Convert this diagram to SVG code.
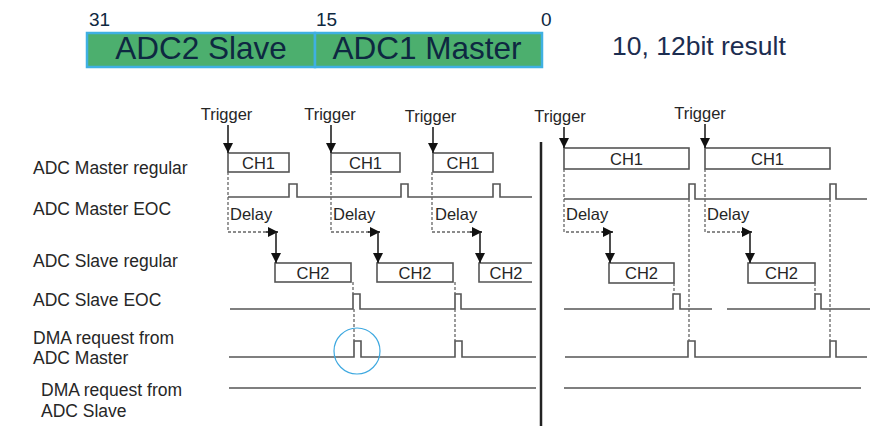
<svg xmlns="http://www.w3.org/2000/svg" width="881" height="442" viewBox="0 0 881 442">
<style>
text{font-family:"Liberation Sans",Arial,sans-serif}
.reg{fill:#4caf6e;stroke:#3fb0e2;stroke-width:2.5}
.big{font-size:31.5px;fill:#0e2841}
.bit{font-size:19px;fill:#0e2841}
.lab{font-size:17.5px;fill:#262626}
.trg{font-size:16.5px;fill:#262626}
.ch{font-size:16.5px;fill:#262626;text-anchor:middle}
.sig{fill:none;stroke:#555;stroke-width:1.6}
.box{fill:#fff;stroke:#555;stroke-width:1.6}
.dash{fill:none;stroke:#666;stroke-width:1.3;stroke-dasharray:3 2}
.arr{fill:none;stroke:#222;stroke-width:1.6}
</style>
<defs>
<marker id="ah" viewBox="0 0 10 10" refX="10" refY="5" markerWidth="10" markerHeight="10" markerUnits="userSpaceOnUse" orient="auto">
<path d="M0,0 L10,5 L0,10 z" fill="#111"/>
</marker>
</defs>

<g id="register">
<rect class="reg" x="87" y="33" width="228" height="34"/>
<rect class="reg" x="315" y="33" width="227" height="34"/>
<text class="big" x="201" y="59" text-anchor="middle">ADC2 Slave</text>
<text class="big" x="427" y="59" text-anchor="middle">ADC1 Master</text>
<text class="bit" x="89" y="26">31</text>
<text class="bit" x="316" y="26">15</text>
<text class="bit" x="541" y="26">0</text>
<text x="612" y="55" style="font-size:26.5px;fill:#1c2d50">10, 12bit result</text>
</g>

<g id="labels">
<text class="lab" x="33" y="174">ADC Master regular</text>
<text class="lab" x="33" y="215">ADC Master EOC</text>
<text class="lab" x="33" y="267">ADC Slave regular</text>
<text class="lab" x="33" y="306">ADC Slave EOC</text>
<text class="lab" x="33" y="344">DMA request from</text>
<text class="lab" x="33" y="364">ADC Master</text>
<text class="lab" x="41" y="396">DMA request from</text>
<text class="lab" x="41" y="417">ADC Slave</text>
</g>

<g id="triggers">
<text class="trg" x="226.5" y="120" text-anchor="middle">Trigger</text>
<text class="trg" x="330" y="120" text-anchor="middle">Trigger</text>
<text class="trg" x="430.5" y="122" text-anchor="middle">Trigger</text>
<text class="trg" x="560" y="122" text-anchor="middle">Trigger</text>
<text class="trg" x="700" y="119" text-anchor="middle">Trigger</text>
</g>

<g id="master-regular">
<rect class="box" x="228" y="153" width="61" height="19"/>
<rect class="box" x="331" y="153" width="69" height="19"/>
<rect class="box" x="433" y="153" width="60" height="19"/>
<rect class="box" x="564" y="148" width="125" height="21"/>
<rect class="box" x="705" y="148" width="125" height="21"/>
<text class="ch" x="258.5" y="169">CH1</text>
<text class="ch" x="365.5" y="169">CH1</text>
<text class="ch" x="463" y="169">CH1</text>
<text class="ch" x="626.5" y="165">CH1</text>
<text class="ch" x="767.5" y="165">CH1</text>
</g>

<g id="slave-regular">
<rect class="box" x="275" y="263" width="76" height="19"/>
<rect class="box" x="377" y="263" width="76" height="19"/>
<path class="sig" d="M532,263 H479 V282 H532"/>
<rect class="box" x="609" y="263" width="65" height="20"/>
<rect class="box" x="748" y="263" width="67" height="20"/>
<text class="ch" x="313" y="279">CH2</text>
<text class="ch" x="415" y="279">CH2</text>
<text class="ch" x="506" y="279">CH2</text>
<text class="ch" x="641.5" y="279">CH2</text>
<text class="ch" x="781.5" y="279">CH2</text>
</g>

<g id="delays">
<text class="trg" x="230" y="220">Delay</text>
<text class="trg" x="333" y="220">Delay</text>
<text class="trg" x="435" y="220">Delay</text>
<text class="trg" x="566" y="220">Delay</text>
<text class="trg" x="707" y="220">Delay</text>
</g>

<g id="signals">
<path class="sig" d="M228,197 H289 V184 H297 V197 H401 V184 H408 V197 H493 V184 H500 V197 H532"/>
<path class="sig" d="M564,199 H689 V184 H695 V199 H830 V184 H836 V199 H867"/>
<path class="sig" d="M230,309 H353 V294 H360 V309 H455 V294 H461 V309 H536"/>
<path class="sig" d="M564,309 H673 V294 H680 V309 H712 M727,309 H815 V294 H821 V309 H870"/>
<path class="sig" d="M229,357 H354 V341 H361 V357 H455 V341 H462 V357 H536"/>
<path class="sig" d="M565,357 H688 V341 H695 V357 H830 V341 H836 V357 H867"/>
<path class="sig" d="M229,388 H536"/>
<path class="sig" d="M564,388 H861"/>
</g>

<g id="connectors">
<line class="arr" x1="228" y1="125" x2="228" y2="153" marker-end="url(#ah)"/>
<line class="arr" x1="331" y1="125" x2="331" y2="153" marker-end="url(#ah)"/>
<line class="arr" x1="433" y1="127" x2="433" y2="153" marker-end="url(#ah)"/>
<line class="arr" x1="564" y1="127" x2="564" y2="148" marker-end="url(#ah)"/>
<line class="arr" x1="705" y1="124" x2="705" y2="148" marker-end="url(#ah)"/>

<path class="dash" d="M228,172 V232 H268"/>
<path class="dash" d="M331,172 V232 H370"/>
<path class="dash" d="M432,172 V232 H472"/>
<path class="dash" d="M564,169 V232 H604"/>
<path class="dash" d="M705,169 V232 H744"/>
<line class="arr" x1="266" y1="232" x2="278" y2="232" marker-end="url(#ah)"/>
<line class="arr" x1="368" y1="232" x2="380" y2="232" marker-end="url(#ah)"/>
<line class="arr" x1="470" y1="232" x2="482" y2="232" marker-end="url(#ah)"/>
<line class="arr" x1="602" y1="232" x2="613" y2="232" marker-end="url(#ah)"/>
<line class="arr" x1="741" y1="232" x2="752" y2="232" marker-end="url(#ah)"/>
<line class="arr" x1="276" y1="232" x2="276" y2="263" marker-end="url(#ah)"/>
<line class="arr" x1="378" y1="232" x2="378" y2="263" marker-end="url(#ah)"/>
<line class="arr" x1="480" y1="232" x2="480" y2="263" marker-end="url(#ah)"/>
<line class="arr" x1="610" y1="232" x2="610" y2="263" marker-end="url(#ah)"/>
<line class="arr" x1="750" y1="232" x2="750" y2="263" marker-end="url(#ah)"/>

<path class="dash" d="M353,282 V294 M354,309 V341"/>
<path class="dash" d="M455,282 V294 M455,309 V341"/>
<path class="dash" d="M674,283 V294"/>
<path class="dash" d="M815,283 V294"/>
<path class="dash" d="M689,199 V341"/>
<path class="dash" d="M830,199 V341"/>
</g>

<line id="divider" x1="541" y1="142" x2="541" y2="426" stroke="#222" stroke-width="2.5"/>
<circle id="highlight" cx="357" cy="351" r="23" fill="none" stroke="#3fa9e0" stroke-width="1.2"/>
</svg>
